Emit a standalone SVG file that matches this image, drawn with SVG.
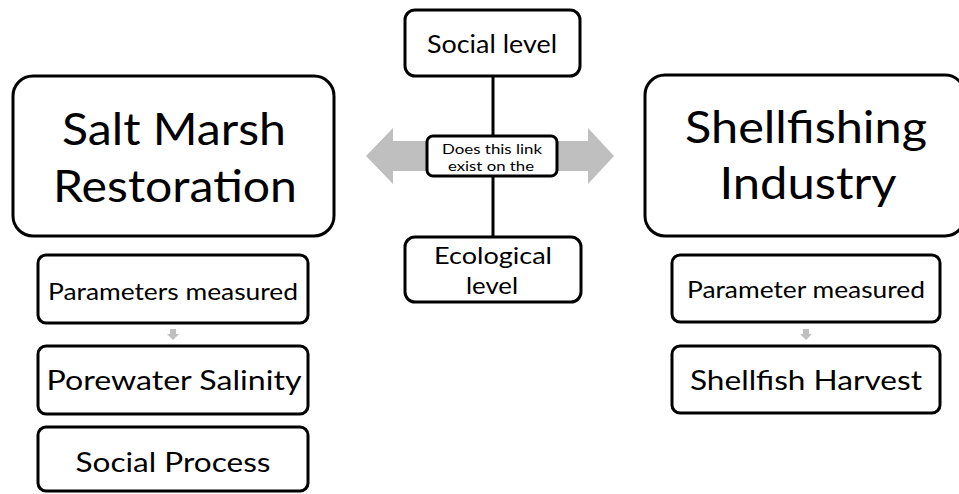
<svg xmlns="http://www.w3.org/2000/svg" width="959" height="494" viewBox="0 0 959 494">
  <style>
    .box { fill: #ffffff; stroke: #000000; stroke-width: 3; }
    .t { font-family: Lato, "Open Sans", sans-serif; fill: #000000; text-anchor: middle; }
    .big { font-size: 45px; }
    .mid { font-size: 27px; }
    .lvl { font-size: 24px; }
    .sm { font-size: 14px; }
    .step { fill: #bfbfbf; }
  </style>
  <rect width="959" height="494" fill="#ffffff"/>

  <!-- connectors: grey two-way arrow, vertical level line, small step arrows -->
  <g id="connectors">
    <polygon class="step" points="366,156 393,128 393,141 588,141 588,128 614,156 588,184 588,171 393,171 393,184"/>
    <line x1="493" y1="76" x2="493" y2="237" stroke="#000" stroke-width="3"/>
    <polygon class="step" points="170,329 176,329 176,334 179,334 173,340 167,334 170,334"/>
    <polygon class="step" points="803,329 809,329 809,334 812,334 806,340 800,334 803,334"/>
  </g>

  <g id="salt-marsh">
    <rect class="box" x="13" y="76" width="321" height="160" rx="20"/>
    <text class="t big" x="174" y="145" textLength="224" lengthAdjust="spacingAndGlyphs">Salt Marsh</text>
    <text class="t big" x="175" y="202" textLength="244" lengthAdjust="spacingAndGlyphs">Restoration</text>
  </g>

  <g id="shellfishing">
    <rect class="box" x="645" y="75" width="320" height="161" rx="20"/>
    <text class="t big" x="806" y="143" textLength="242" lengthAdjust="spacingAndGlyphs">Shellfishing</text>
    <text class="t big" x="808" y="199" textLength="177" lengthAdjust="spacingAndGlyphs">Industry</text>
  </g>

  <g id="social-level">
    <rect class="box" x="405" y="10" width="175" height="66" rx="10"/>
    <text class="t" style="font-size:25px" x="492" y="53" textLength="130" lengthAdjust="spacingAndGlyphs">Social level</text>
  </g>

  <g id="link-question">
    <rect class="box" x="427" y="136" width="130" height="40" rx="6"/>
    <text class="t sm" x="492" y="154" textLength="100" lengthAdjust="spacingAndGlyphs">Does this link</text>
    <text class="t sm" x="491" y="171" textLength="86" lengthAdjust="spacingAndGlyphs">exist on the</text>
  </g>

  <g id="ecological-level">
    <rect class="box" x="405" y="237" width="176" height="65" rx="10"/>
    <text class="t lvl" x="493" y="264" textLength="118" lengthAdjust="spacingAndGlyphs">Ecological</text>
    <text class="t lvl" x="492" y="294" textLength="52" lengthAdjust="spacingAndGlyphs">level</text>
  </g>

  <g id="parameters-measured">
    <rect class="box" x="38" y="255" width="270" height="68" rx="8"/>
    <text class="t" style="font-size:24px" x="173" y="300" textLength="250" lengthAdjust="spacingAndGlyphs">Parameters measured</text>
  </g>

  <g id="porewater-salinity">
    <rect class="box" x="38" y="346" width="270" height="68" rx="8"/>
    <text class="t mid" x="174" y="390" textLength="255" lengthAdjust="spacingAndGlyphs">Porewater Salinity</text>
  </g>

  <g id="social-process">
    <rect class="box" x="38" y="427" width="270" height="64" rx="8"/>
    <text class="t mid" x="173" y="472" textLength="195" lengthAdjust="spacingAndGlyphs">Social Process</text>
  </g>

  <g id="parameter-measured">
    <rect class="box" x="672" y="255" width="268" height="67" rx="8"/>
    <text class="t" style="font-size:23px" x="806" y="298" textLength="238" lengthAdjust="spacingAndGlyphs">Parameter measured</text>
  </g>

  <g id="shellfish-harvest">
    <rect class="box" x="672" y="346" width="268" height="67" rx="8"/>
    <text class="t mid" x="806" y="390" textLength="232" lengthAdjust="spacingAndGlyphs">Shellfish Harvest</text>
  </g>
</svg>
